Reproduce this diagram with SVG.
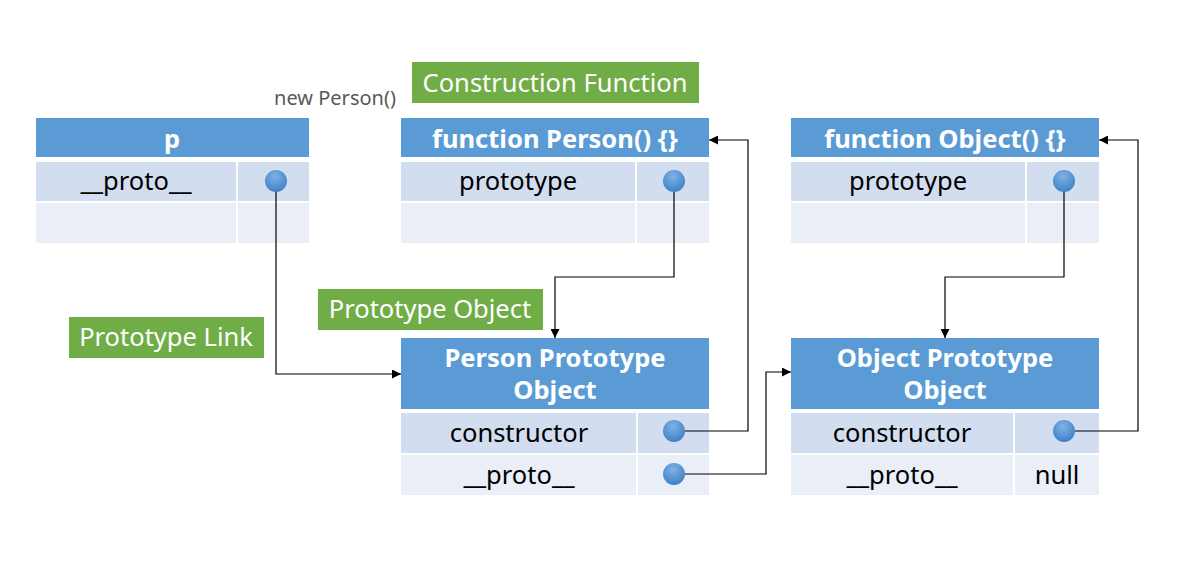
<svg xmlns="http://www.w3.org/2000/svg" width="1186" height="565" viewBox="0 0 1186 565">
<defs>
<radialGradient id="dotg" cx="0.45" cy="0.3" r="0.75">
<stop offset="0" stop-color="#7FB2E5"/>
<stop offset="1" stop-color="#3A7DC4"/>
</radialGradient>
<marker id="arr" viewBox="0 0 10 10" refX="10" refY="5" markerWidth="9" markerHeight="9" markerUnits="userSpaceOnUse" orient="auto">
<path d="M0,0 L10,5 L0,10 z" fill="#000"/>
</marker>
</defs>
<style>
.hd{fill:#5B9BD5}
.r1{fill:#D2DEEF}
.r2{fill:#EAEFF7}
.hdt{font-family:"Noto Sans","Open Sans",sans-serif;font-weight:bold;font-size:25.5px;fill:#fff;text-anchor:middle}
.rt{font-family:"Noto Sans","Open Sans",sans-serif;font-size:25.5px;fill:#000;text-anchor:middle}
.gl{fill:#70AD47}
.glt{font-family:"Noto Sans","Open Sans",sans-serif;font-size:25.5px;fill:#fff;text-anchor:middle}
.dot{fill:url(#dotg)}
.cn{fill:none;stroke:#000;stroke-width:1.2}
</style>
<rect width="1186" height="565" fill="#fff"/>

<text x="335" y="105" font-family="'Noto Sans','Open Sans',sans-serif" font-size="20" fill="#595959" text-anchor="middle">new Person()</text>

<g id="label-construction">
<rect class="gl" x="412" y="62" width="287" height="41"/>
<text class="glt" x="555" y="92">Construction Function</text>
</g>
<g id="label-prototype-object">
<rect class="gl" x="318" y="289" width="225" height="41"/>
<text class="glt" x="430" y="318">Prototype Object</text>
</g>
<g id="label-prototype-link">
<rect class="gl" x="69" y="317" width="195" height="41"/>
<text class="glt" x="166" y="346">Prototype Link</text>
</g>

<g id="node-p">
<rect class="hd" x="36" y="118" width="273" height="39"/>
<text class="hdt" x="172" y="148">p</text>
<rect class="r1" x="36" y="162" width="200" height="39"/>
<rect class="r1" x="238" y="162" width="71" height="39"/>
<rect class="r2" x="36" y="203" width="200" height="40"/>
<rect class="r2" x="238" y="203" width="71" height="40"/>
<text class="rt" x="136" y="190">__proto__</text>
<circle class="dot" cx="276" cy="181" r="11"/>
</g>

<g id="node-person-fn">
<rect class="hd" x="401" y="118" width="308" height="39"/>
<text class="hdt" x="555" y="148">function Person() {}</text>
<rect class="r1" x="401" y="162" width="234" height="39"/>
<rect class="r1" x="637" y="162" width="72" height="39"/>
<rect class="r2" x="401" y="203" width="234" height="40"/>
<rect class="r2" x="637" y="203" width="72" height="40"/>
<text class="rt" x="518" y="190">prototype</text>
<circle class="dot" cx="674" cy="181" r="11"/>
</g>

<g id="node-object-fn">
<rect class="hd" x="791" y="118" width="308" height="39"/>
<text class="hdt" x="945" y="148">function Object() {}</text>
<rect class="r1" x="791" y="162" width="234" height="39"/>
<rect class="r1" x="1027" y="162" width="72" height="39"/>
<rect class="r2" x="791" y="203" width="234" height="40"/>
<rect class="r2" x="1027" y="203" width="72" height="40"/>
<text class="rt" x="908" y="190">prototype</text>
<circle class="dot" cx="1064" cy="181" r="11"/>
</g>

<g id="node-person-proto">
<rect class="hd" x="401" y="338" width="308" height="71"/>
<text class="hdt" x="555" y="367">Person Prototype</text>
<text class="hdt" x="555" y="399">Object</text>
<rect class="r1" x="401" y="413" width="235" height="40"/>
<rect class="r1" x="638" y="413" width="71" height="40"/>
<rect class="r2" x="401" y="455" width="235" height="40"/>
<rect class="r2" x="638" y="455" width="71" height="40"/>
<text class="rt" x="519" y="442">constructor</text>
<text class="rt" x="519" y="484">__proto__</text>
<circle class="dot" cx="674" cy="431" r="11"/>
<circle class="dot" cx="674" cy="474" r="11"/>
</g>

<g id="node-object-proto">
<rect class="hd" x="791" y="338" width="308" height="71"/>
<text class="hdt" x="945" y="367">Object Prototype</text>
<text class="hdt" x="945" y="399">Object</text>
<rect class="r1" x="791" y="413" width="222" height="40"/>
<rect class="r1" x="1015" y="413" width="84" height="40"/>
<rect class="r2" x="791" y="455" width="222" height="40"/>
<rect class="r2" x="1015" y="455" width="84" height="40"/>
<text class="rt" x="902" y="442">constructor</text>
<text class="rt" x="902" y="484">__proto__</text>
<text class="rt" x="1057" y="484">null</text>
<circle class="dot" cx="1064" cy="431" r="11"/>
</g>

<g id="connectors">
<path class="cn" d="M276,192 V374 H401" marker-end="url(#arr)"/>
<path class="cn" d="M674,192 V277 H555 V338" marker-end="url(#arr)"/>
<path class="cn" d="M685,431 H748 V140 H709" marker-end="url(#arr)"/>
<path class="cn" d="M685,474 H766 V372 H791" marker-end="url(#arr)"/>
<path class="cn" d="M1064,192 V277 H945 V338" marker-end="url(#arr)"/>
<path class="cn" d="M1075,431 H1138 V140 H1099" marker-end="url(#arr)"/>
</g>
</svg>
